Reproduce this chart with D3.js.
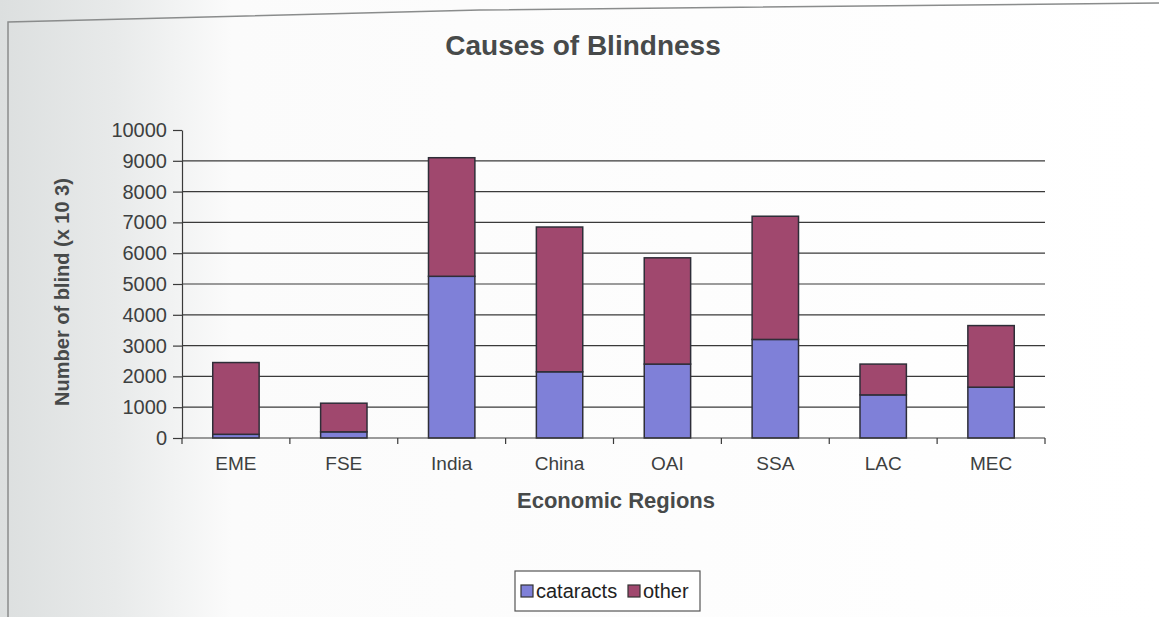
<!DOCTYPE html>
<html>
<head>
<meta charset="utf-8">
<script src="https://cdn.jsdelivr.net/npm/d3@7"></script>
<style>
  body { margin: 0; background: #fff; }
  text { font-family: "Liberation Sans", Arial, sans-serif; fill: #333; }
</style>
</head>
<body>
<div id="chart"></div>
<script>
// datos (miles de ciegos por región)
const categories = ['EME', 'FSE', 'India', 'China', 'OAI', 'SSA', 'LAC', 'MEC'];
const cataracts = [120, 200, 5250, 2150, 2400, 3200, 1400, 1650];
const other = [2330, 930, 3850, 4700, 3450, 4000, 1000, 2000];
const seriesNames = ['cataracts', 'other'];
const yTicks = [0, 1000, 2000, 3000, 4000, 5000, 6000, 7000, 8000, 9000, 10000];

const colors = ['#7f80d8', '#a0486e'];

const W = 1159, H = 617;
const margin = {top: 130, right: 114, bottom: 179, left: 182};
const width = W - margin.left - margin.right;
const height = H - margin.top - margin.bottom;

const svgRoot = d3.select("#chart")
    .append("svg")
    .attr("width", W)
    .attr("height", H);

// fondo gris a la izquierda (como el escaneo)
const grad = svgRoot.append("defs").append("linearGradient")
    .attr("id", "bg").attr("x1", "0").attr("x2", "1").attr("y1", "0").attr("y2", "0");
grad.append("stop").attr("offset", "0").attr("stop-color", "#dcdfdf");
grad.append("stop").attr("offset", "0.1").attr("stop-color", "#e8eaea");
grad.append("stop").attr("offset", "0.2").attr("stop-color", "#fbfbfb");
grad.append("stop").attr("offset", "1").attr("stop-color", "#ffffff");
svgRoot.append("rect").attr("width", W).attr("height", H).attr("fill", "url(#bg)");

// marco del gráfico
svgRoot.append("path")
    .attr("d", `M8,${H} L8,22 L480,10 L${W},3`)
    .attr("fill", "none")
    .attr("stroke", "#8a8c8c")
    .attr("stroke-width", 1.5);

const svg = svgRoot.append("g")
    .attr("transform", `translate(${margin.left},${margin.top})`);

// título
svgRoot.append("text")
    .attr("x", 583)
    .attr("y", 55)
    .attr("text-anchor", "middle")
    .style("font-size", "28px")
    .style("font-weight", "bold")
    .style("fill", "#474a4a")
    .text("Causes of Blindness");

// escalas
const x = d3.scaleBand()
    .domain(categories)
    .range([0, width])
    .paddingInner(0.57)
    .paddingOuter(0.285);

const y = d3.scaleLinear()
    .domain([0, 10000])
    .range([height, 0]);

// líneas de cuadrícula
svg.selectAll(".grid")
    .data(yTicks.filter(d => d > 0 && d < 10000))
    .enter()
    .append("line")
    .attr("class", "grid")
    .attr("x1", 0)
    .attr("x2", width)
    .attr("y1", d => y(d))
    .attr("y2", d => y(d))
    .attr("stroke", "#3a3a3a")
    .attr("stroke-width", 1.2);

// barras apiladas
const stackData = categories.map((c, i) => ({cat: c, cataracts: cataracts[i], other: other[i]}));
const stacked = d3.stack().keys(seriesNames)(stackData);

svg.selectAll(".layer")
    .data(stacked)
    .enter()
    .append("g")
    .attr("class", "layer")
    .attr("fill", (d, i) => colors[i])
    .selectAll("rect")
    .data(d => d)
    .enter()
    .append("rect")
    .attr("x", d => x(d.data.cat))
    .attr("y", d => y(d[1]))
    .attr("width", x.bandwidth())
    .attr("height", d => y(d[0]) - y(d[1]))
    .attr("stroke", "#2e2e38")
    .attr("stroke-width", 1.5);

// eje Y
const yAxis = svg.append("g")
    .call(d3.axisLeft(y).tickValues(yTicks).tickFormat(d3.format("d"))
        .tickSize(9).tickPadding(6).tickSizeOuter(0));
yAxis.select(".domain").attr("stroke", "#3a3a3a").attr("stroke-width", 1.2);
yAxis.selectAll(".tick line").attr("stroke", "#3a3a3a").attr("stroke-width", 1.2);
yAxis.selectAll("text")
    .style("font-size", "20px")
    .style("fill", "#3d4040");

// eje X con marcas entre categorías
svg.append("line")
    .attr("x1", 0).attr("x2", width)
    .attr("y1", height).attr("y2", height)
    .attr("stroke", "#3a3a3a").attr("stroke-width", 1.2);

const step = x.step();
svg.selectAll(".xtick")
    .data(d3.range(categories.length + 1))
    .enter()
    .append("line")
    .attr("class", "xtick")
    .attr("x1", i => i * step).attr("x2", i => i * step)
    .attr("y1", height).attr("y2", height + 6)
    .attr("stroke", "#3a3a3a").attr("stroke-width", 1.2);

svg.selectAll(".xlabel")
    .data(categories)
    .enter()
    .append("text")
    .attr("class", "xlabel")
    .attr("x", d => x(d) + x.bandwidth() / 2)
    .attr("y", height + 32)
    .attr("text-anchor", "middle")
    .style("font-size", "19px")
    .style("fill", "#3d4040")
    .text(d => d);

// etiqueta del eje X
svgRoot.append("text")
    .attr("x", 616)
    .attr("y", 508)
    .attr("text-anchor", "middle")
    .style("font-size", "22px")
    .style("font-weight", "bold")
    .style("fill", "#474a4a")
    .text("Economic Regions");

// etiqueta del eje Y
svgRoot.append("text")
    .attr("transform", "translate(69,292) rotate(-90)")
    .attr("text-anchor", "middle")
    .style("font-size", "20px")
    .style("font-weight", "bold")
    .style("fill", "#474a4a")
    .text("Number of blind (x 10 3)");

// leyenda
const legend = svgRoot.append("g").attr("transform", "translate(515,571)");
legend.append("rect")
    .attr("width", 185).attr("height", 40)
    .attr("fill", "#fff")
    .attr("stroke", "#555").attr("stroke-width", 1.2);

const legendX = [6, 113];
seriesNames.forEach((name, i) => {
    legend.append("rect")
        .attr("x", legendX[i]).attr("y", 14)
        .attr("width", 12).attr("height", 12)
        .attr("fill", colors[i])
        .attr("stroke", "#333").attr("stroke-width", 1.2);
    legend.append("text")
        .attr("x", legendX[i] + 15).attr("y", 27)
        .style("font-size", "20px")
        .style("fill", "#222")
        .text(name);
});
</script>
</body>
</html>
